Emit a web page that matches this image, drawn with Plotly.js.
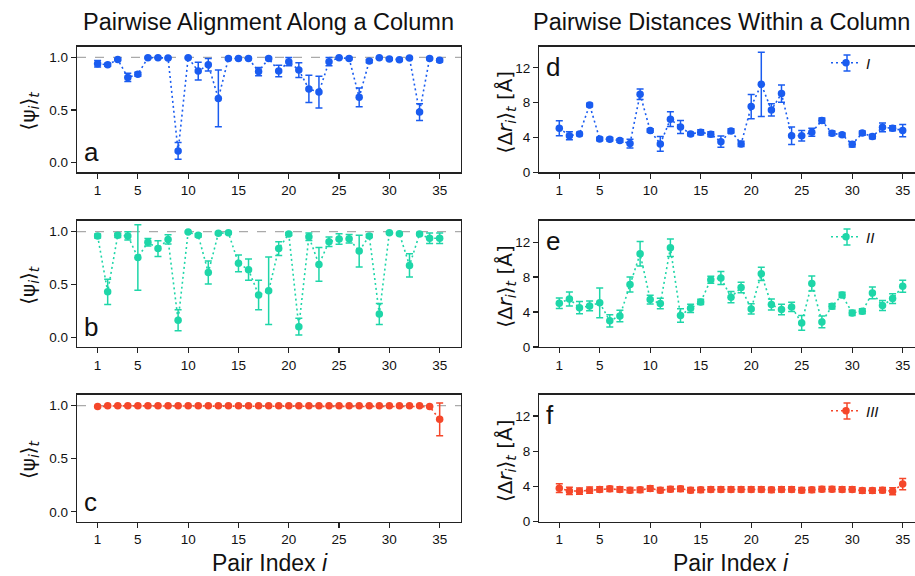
<!DOCTYPE html>
<html>
<head>
<meta charset="utf-8">
<script src="https://cdn.plot.ly/plotly-3.0.1.min.js"></script>
<style>html,body{margin:0;padding:0;background:#fff;}#chart{width:915px;height:576px;}</style>
</head>
<body>
<div id="chart"></div>
<script>
const pairIndex = [1,2,3,4,5,6,7,8,9,10,11,12,13,14,15,16,17,18,19,20,21,22,23,24,25,26,27,28,29,30,31,32,33,34,35];
const xTickVals = [1,5,10,15,20,25,30,35];
const xTickText = ["1","5","10","15","20","25","30","35"];

// Panel a: alignment, column I
const psiI    = [0.94,0.93,0.98,0.81,0.84,0.997,0.997,0.994,0.11,0.997,0.87,0.93,0.61,0.99,0.99,0.99,0.865,0.99,0.87,0.96,0.88,0.70,0.67,0.96,0.997,0.99,0.62,0.965,0.997,0.984,0.978,0.994,0.48,0.99,0.972];
const psiIErr = [0.03,0.015,0.01,0.04,0.02,0.005,0.005,0.005,0.08,0.005,0.085,0.06,0.27,0.01,0.01,0.01,0.04,0.01,0.055,0.04,0.07,0.13,0.15,0.04,0.005,0.01,0.09,0.015,0.005,0.01,0.01,0.005,0.08,0.01,0.015];
// Panel b: alignment, column II
const psiII    = [0.959,0.43,0.965,0.96,0.756,0.90,0.84,0.927,0.16,0.997,0.965,0.613,0.984,0.99,0.70,0.64,0.40,0.44,0.84,0.978,0.10,0.952,0.69,0.905,0.93,0.933,0.816,0.96,0.22,0.99,0.98,0.68,0.978,0.937,0.937];
const psiIIErr = [0.02,0.12,0.02,0.04,0.31,0.035,0.075,0.045,0.10,0.005,0.015,0.11,0.01,0.01,0.08,0.10,0.14,0.32,0.065,0.015,0.08,0.035,0.16,0.045,0.05,0.04,0.15,0.015,0.10,0.01,0.01,0.11,0.015,0.05,0.05];
// Panel c: alignment, column III
const psiIII    = [0.99,0.997,0.997,0.997,0.997,0.997,0.997,0.997,0.997,0.997,0.997,0.997,0.997,0.997,0.997,0.997,0.997,0.997,0.997,0.997,0.997,0.997,0.997,0.997,0.997,0.997,0.997,0.997,0.997,0.997,0.997,0.997,0.997,0.99,0.87];
const psiIIIErr = [0.005,0.002,0.002,0.002,0.002,0.002,0.002,0.002,0.002,0.002,0.002,0.002,0.002,0.002,0.002,0.002,0.002,0.002,0.002,0.002,0.002,0.002,0.002,0.002,0.002,0.002,0.002,0.002,0.002,0.002,0.002,0.002,0.002,0.005,0.155];

// Panel d: distances, column I
const drI    = [5.06,4.2,4.4,7.74,3.83,3.8,3.64,3.3,8.97,4.79,3.26,6.1,5.2,4.4,4.6,4.37,3.52,4.75,3.26,7.55,10.1,7.16,9.04,4.2,4.2,4.6,5.94,4.48,4.3,3.22,4.5,4.1,5.17,5.06,4.79];
const drIErr = [0.86,0.45,0.2,0.2,0.2,0.2,0.2,0.5,0.6,0.2,0.85,0.85,0.75,0.2,0.3,0.3,0.65,0.25,0.3,1.4,3.7,0.7,1.0,1.0,0.6,0.45,0.3,0.25,0.2,0.3,0.25,0.25,0.5,0.3,0.7];
// Panel e: distances, column II
const drII    = [5.0,5.5,4.5,4.7,5.05,3.0,3.55,7.15,10.66,5.43,4.97,11.35,3.6,4.43,5.16,7.7,7.9,5.7,6.8,4.36,8.37,4.85,4.28,4.58,2.75,7.26,2.87,4.66,5.96,3.9,4.09,6.19,4.74,5.54,6.95];
const drIIErr = [0.6,0.8,0.7,0.55,1.7,0.7,0.65,0.85,1.4,0.5,0.6,1.0,0.77,0.47,0.3,0.4,0.75,0.65,0.6,0.58,0.76,0.63,0.6,0.53,0.84,0.86,0.67,0.3,0.3,0.3,0.3,0.67,0.57,0.55,0.69];
// Panel f: distances, column III
const drIII    = [3.81,3.5,3.47,3.58,3.66,3.73,3.66,3.58,3.62,3.77,3.58,3.7,3.73,3.58,3.62,3.66,3.66,3.66,3.66,3.66,3.66,3.62,3.66,3.66,3.58,3.62,3.7,3.7,3.66,3.66,3.54,3.54,3.58,3.47,4.27];
const drIIIErr = [0.5,0.4,0.35,0.35,0.3,0.3,0.3,0.3,0.3,0.3,0.3,0.3,0.3,0.3,0.3,0.3,0.3,0.3,0.3,0.3,0.3,0.3,0.3,0.3,0.3,0.3,0.3,0.3,0.3,0.3,0.3,0.3,0.3,0.4,0.65];

const seriesNames = ["I","II","III"];
const colors = ["#1a5cf0","#1ed6a8","#f5472a"];

const W = 915, H = 576;
const px = v => v / W;
const py = v => 1 - v / H;
const FAM = "Liberation Sans, Arial, sans-serif";

function trace(y, err, color, xa, ya, name, legend, show) {
  return {
    x: pairIndex, y: y, xaxis: xa, yaxis: ya, type: "scatter", mode: "lines+markers",
    name: "<i>" + name + "</i>", showlegend: show, legend: legend,
    line: {color: color, width: 1.6, dash: "2px,3px"},
    marker: {color: color, size: 7.5},
    error_y: {type: "data", array: err, visible: true, color: color, thickness: 1.5, width: 3.5}
  };
}

const data = [
  trace(psiI,   psiIErr,   colors[0], "x",  "y",  seriesNames[0], "legend", false),
  trace(drI,    drIErr,    colors[0], "x2", "y2", seriesNames[0], "legend", true),
  trace(psiII,  psiIIErr,  colors[1], "x3", "y3", seriesNames[1], "legend2", false),
  trace(drII,   drIIErr,   colors[1], "x4", "y4", seriesNames[1], "legend2", true),
  trace(psiIII, psiIIIErr, colors[2], "x5", "y5", seriesNames[2], "legend3", false),
  trace(drIII,  drIIIErr,  colors[2], "x6", "y6", seriesNames[2], "legend3", true)
];

const tickFont = {family: FAM, size: 13.5, color: "#111"};
const rows = [[46.5, 172.3], [220.7, 347], [394.5, 521.7]];
const leftX = [77, 461], rightX = [539.3, 915];

function xax(dom, range, anchor) {
  return {domain: [px(dom[0]), px(dom[1])], range: range, anchor: anchor,
    tickmode: "array", tickvals: xTickVals, ticktext: xTickText,
    ticks: "outside", ticklen: 5, tickwidth: 1.2, tickcolor: "#222",
    showline: true, linecolor: "#222", linewidth: 1.3, mirror: true,
    showgrid: false, zeroline: false, tickfont: tickFont, fixedrange: true};
}
function yax(row, range, anchor, left, tv, tt) {
  return {domain: [py(row[1]), py(row[0])], range: range, anchor: anchor,
    tickmode: "array", tickvals: tv, ticktext: tt,
    ticks: "outside", ticklen: 5, tickwidth: 1.2, tickcolor: "#222",
    showline: true, linecolor: "#222", linewidth: 1.3, mirror: left ? true : false,
    showgrid: false, zeroline: false, tickfont: tickFont, fixedrange: true};
}
const psiRange = [-0.093, 1.104];
const drRange = [0, 14.45];
const psiTicks = [0, 0.5, 1.0], psiText = ["0.0","0.5","1.0"];
const drTicks = [0, 4, 8, 12], drText = ["0","4","8","12"];
const xLeftRange = [-1.05, 37.12];
const xRightRange = [-0.98, -0.98 + (915 - 539.3) / 10.1];

const legendY = [63, 237, 411];
function leg(yPix) {
  return {x: px(826), y: py(yPix), xanchor: "left", yanchor: "middle", bgcolor: "rgba(0,0,0,0)",
    font: {size: 15, family: FAM, color: "#111"}};
}

const shapes = ["", "3", "5"].map(s => ({type: "line", xref: "x" + s + " domain", yref: "y" + s,
    x0: 0, x1: 1, y0: 1, y1: 1, layer: "below", line: {color: "#aaaaaa", width: 1.2, dash: "dash"}}));
// error-bar glyphs in the legend icons
legendY.forEach((ly, k) => {
  const c = colors[k], lx = 847;
  shapes.push({type: "line", xref: "paper", yref: "paper", x0: px(lx), x1: px(lx), y0: py(ly - 8), y1: py(ly + 8), line: {color: c, width: 1.5}});
  shapes.push({type: "line", xref: "paper", yref: "paper", x0: px(lx - 3.5), x1: px(lx + 3.5), y0: py(ly - 8), y1: py(ly - 8), line: {color: c, width: 1.5}});
  shapes.push({type: "line", xref: "paper", yref: "paper", x0: px(lx - 3.5), x1: px(lx + 3.5), y0: py(ly + 8), y1: py(ly + 8), line: {color: c, width: 1.5}});
});

const layout = {
  width: W, height: H, margin: {l: 0, r: 0, t: 0, b: 0},
  paper_bgcolor: "#fff", plot_bgcolor: "#fff",
  font: {family: FAM, color: "#111"},
  xaxis:  xax(leftX,  xLeftRange,  "y"),
  yaxis:  yax(rows[0], psiRange, "x",  true, psiTicks, psiText),
  xaxis2: xax(rightX, xRightRange, "y2"),
  yaxis2: yax(rows[0], drRange,  "x2", false, drTicks, drText),
  xaxis3: xax(leftX,  xLeftRange,  "y3"),
  yaxis3: yax(rows[1], psiRange, "x3", true, psiTicks, psiText),
  xaxis4: xax(rightX, xRightRange, "y4"),
  yaxis4: yax(rows[1], drRange,  "x4", false, drTicks, drText),
  xaxis5: xax(leftX,  xLeftRange,  "y5"),
  yaxis5: yax(rows[2], psiRange, "x5", true, psiTicks, psiText),
  xaxis6: xax(rightX, xRightRange, "y6"),
  yaxis6: yax(rows[2], drRange,  "x6", false, drTicks, drText),
  shapes: shapes,
  legend:  leg(legendY[0]),
  legend2: leg(legendY[1]),
  legend3: leg(legendY[2]),
  annotations: []
};

const ann = layout.annotations;
const titleFont = {family: FAM, size: 23.5, color: "#111"};
ann.push({text: "Pairwise Alignment Along a Column", x: px(268), y: py(22), xref: "paper", yref: "paper", showarrow: false, font: titleFont, xanchor: "center", yanchor: "middle"});
ann.push({text: "Pairwise Distances Within a Column", x: px(721), y: py(22), xref: "paper", yref: "paper", showarrow: false, font: titleFont, xanchor: "center", yanchor: "middle"});
const xLabFont = {family: FAM, size: 23, color: "#111"};
ann.push({text: "Pair Index <i>i</i>", x: px(270), y: py(563), xref: "paper", yref: "paper", showarrow: false, font: xLabFont, xanchor: "center", yanchor: "middle"});
ann.push({text: "Pair Index <i>i</i>", x: px(731), y: py(563), xref: "paper", yref: "paper", showarrow: false, font: xLabFont, xanchor: "center", yanchor: "middle"});

const yLabFont = {family: "DejaVu Sans, Liberation Sans, sans-serif", size: 20, color: "#111"};
rows.forEach((r, k) => {
  const yc = (r[0] + r[1]) / 2;
  ann.push({text: "⟨ψ<sub><i>i</i></sub>⟩<sub><i>t</i></sub>", x: px(29), y: py(yc + 2), xref: "paper", yref: "paper", showarrow: false, textangle: -90, font: yLabFont, xanchor: "center", yanchor: "middle"});
  ann.push({text: "⟨Δ<i>r</i><sub><i>i</i></sub>⟩<sub><i>t</i></sub> [Å]", x: px(506), y: py(yc + 3), xref: "paper", yref: "paper", showarrow: false, textangle: -90, font: yLabFont, xanchor: "center", yanchor: "middle"});
  ann.push({text: ["a","b","c"][k], x: px(82), y: py(r[1] - 3), xref: "paper", yref: "paper", showarrow: false, font: {family: FAM, size: 26, color: "#111"}, xanchor: "left", yanchor: "bottom"});
  ann.push({text: ["d","e","f"][k], x: px(544), y: py(r[0] + 3), xref: "paper", yref: "paper", showarrow: false, font: {family: FAM, size: 26, color: "#111"}, xanchor: "left", yanchor: "top"});
});

Plotly.newPlot("chart", data, layout, {displayModeBar: false, staticPlot: true});
</script>
</body>
</html>
